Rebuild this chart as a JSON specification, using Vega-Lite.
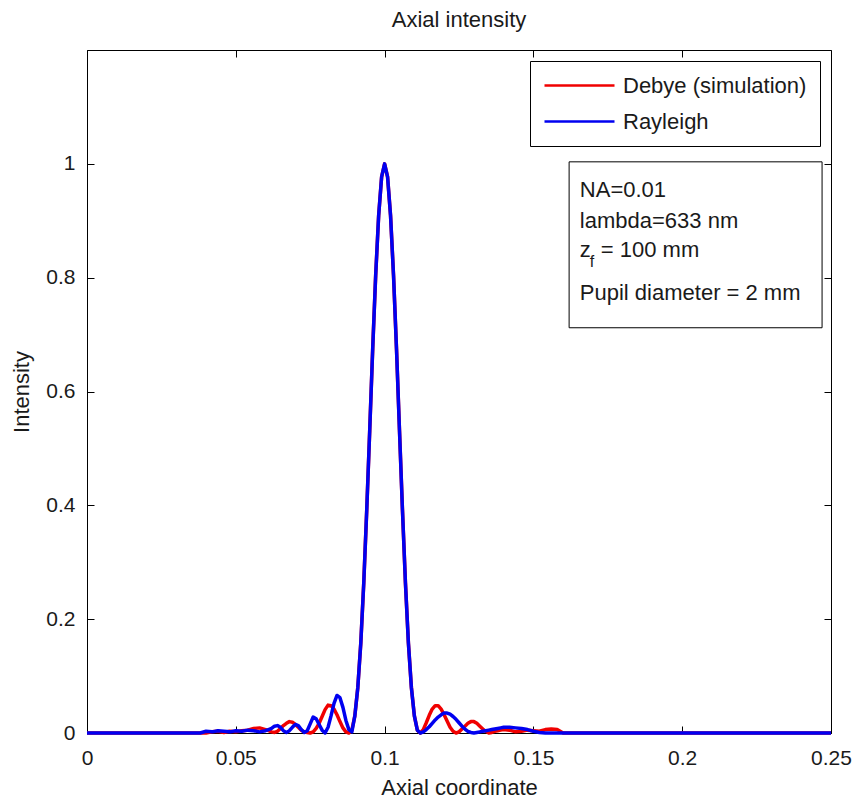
{
  "$schema": "https://vega.github.io/schema/vega-lite/v6.json",
  "autosize": "none",
  "width": 744,
  "height": 683,
  "padding": {"left": 87, "top": 50, "right": 21, "bottom": 70},
  "background": "white",
  "config": {
    "font": "Liberation Sans",
    "view": {"stroke": "black", "strokeWidth": 1},
    "axis": {"grid": false, "domainColor": "black", "tickColor": "black", "labelColor": "#1a1a1a", "titleColor": "#1a1a1a", "labelFontSize": 21, "titleFontSize": 22, "titleFontWeight": "normal", "tickSize": -7, "tickWidth": 1, "domainWidth": 1}
  },
  "title": {"text": "Axial intensity", "fontSize": 22, "fontWeight": "normal", "color": "#1a1a1a", "anchor": "middle", "frame": "group", "offset": 18},
  "data": {"values": [
    {"x": 0, "debye": 0, "rayleigh": 0},
    {"x": 0.038, "debye": 0, "rayleigh": 0},
    {"x": 0.040, "debye": 0, "rayleigh": 0.003},
    {"x": 0.042, "debye": 0.002, "rayleigh": 0.002},
    {"x": 0.044, "debye": 0.003, "rayleigh": 0.004},
    {"x": 0.046, "debye": 0.001, "rayleigh": 0.003},
    {"x": 0.048, "debye": 0.003, "rayleigh": 0.002},
    {"x": 0.050, "debye": 0.002, "rayleigh": 0.004},
    {"x": 0.052, "debye": 0.004, "rayleigh": 0.003},
    {"x": 0.054, "debye": 0.005, "rayleigh": 0.005},
    {"x": 0.056, "debye": 0.008, "rayleigh": 0.004},
    {"x": 0.058, "debye": 0.009, "rayleigh": 0.002},
    {"x": 0.060, "debye": 0.006, "rayleigh": 0.004},
    {"x": 0.061, "debye": 0.004, "rayleigh": 0.006},
    {"x": 0.062, "debye": 0.002, "rayleigh": 0.008},
    {"x": 0.063, "debye": 0.001, "rayleigh": 0.012},
    {"x": 0.064, "debye": 0.003, "rayleigh": 0.013},
    {"x": 0.065, "debye": 0.008, "rayleigh": 0.010},
    {"x": 0.066, "debye": 0.013, "rayleigh": 0.004},
    {"x": 0.067, "debye": 0.017, "rayleigh": 0.001},
    {"x": 0.068, "debye": 0.020, "rayleigh": 0.004},
    {"x": 0.069, "debye": 0.019, "rayleigh": 0.010},
    {"x": 0.070, "debye": 0.015, "rayleigh": 0.015},
    {"x": 0.071, "debye": 0.010, "rayleigh": 0.013},
    {"x": 0.072, "debye": 0.005, "rayleigh": 0.006},
    {"x": 0.073, "debye": 0.002, "rayleigh": 0.001},
    {"x": 0.074, "debye": 0.001, "rayleigh": 0.004},
    {"x": 0.075, "debye": 0.000, "rayleigh": 0.016},
    {"x": 0.076, "debye": 0.002, "rayleigh": 0.028},
    {"x": 0.077, "debye": 0.008, "rayleigh": 0.025},
    {"x": 0.078, "debye": 0.017, "rayleigh": 0.015},
    {"x": 0.079, "debye": 0.029, "rayleigh": 0.005},
    {"x": 0.080, "debye": 0.041, "rayleigh": 0.000},
    {"x": 0.081, "debye": 0.049, "rayleigh": 0.010},
    {"x": 0.082, "debye": 0.048, "rayleigh": 0.030},
    {"x": 0.083, "debye": 0.042, "rayleigh": 0.052},
    {"x": 0.084, "debye": 0.032, "rayleigh": 0.066},
    {"x": 0.085, "debye": 0.020, "rayleigh": 0.062},
    {"x": 0.086, "debye": 0.009, "rayleigh": 0.045},
    {"x": 0.087, "debye": 0.002, "rayleigh": 0.022},
    {"x": 0.088, "debye": 0.000, "rayleigh": 0.006},
    {"x": 0.089, "debye": 0.005, "rayleigh": 0.002},
    {"x": 0.090, "debye": 0.030, "rayleigh": 0.030},
    {"x": 0.091, "debye": 0.080, "rayleigh": 0.080},
    {"x": 0.092, "debye": 0.158, "rayleigh": 0.158},
    {"x": 0.093, "debye": 0.264, "rayleigh": 0.264},
    {"x": 0.094, "debye": 0.392, "rayleigh": 0.392},
    {"x": 0.095, "debye": 0.532, "rayleigh": 0.532},
    {"x": 0.096, "debye": 0.675, "rayleigh": 0.675},
    {"x": 0.097, "debye": 0.804, "rayleigh": 0.804},
    {"x": 0.098, "debye": 0.909, "rayleigh": 0.909},
    {"x": 0.099, "debye": 0.977, "rayleigh": 0.977},
    {"x": 0.100, "debye": 1.000, "rayleigh": 1.000},
    {"x": 0.101, "debye": 0.977, "rayleigh": 0.977},
    {"x": 0.102, "debye": 0.909, "rayleigh": 0.909},
    {"x": 0.103, "debye": 0.804, "rayleigh": 0.804},
    {"x": 0.104, "debye": 0.675, "rayleigh": 0.675},
    {"x": 0.105, "debye": 0.532, "rayleigh": 0.532},
    {"x": 0.106, "debye": 0.392, "rayleigh": 0.392},
    {"x": 0.107, "debye": 0.264, "rayleigh": 0.264},
    {"x": 0.108, "debye": 0.158, "rayleigh": 0.158},
    {"x": 0.109, "debye": 0.080, "rayleigh": 0.080},
    {"x": 0.110, "debye": 0.030, "rayleigh": 0.030},
    {"x": 0.111, "debye": 0.005, "rayleigh": 0.005},
    {"x": 0.112, "debye": 0.000, "rayleigh": 0.000},
    {"x": 0.113, "debye": 0.006, "rayleigh": 0.002},
    {"x": 0.114, "debye": 0.018, "rayleigh": 0.006},
    {"x": 0.115, "debye": 0.031, "rayleigh": 0.011},
    {"x": 0.116, "debye": 0.042, "rayleigh": 0.017},
    {"x": 0.117, "debye": 0.048, "rayleigh": 0.023},
    {"x": 0.118, "debye": 0.048, "rayleigh": 0.028},
    {"x": 0.119, "debye": 0.042, "rayleigh": 0.032},
    {"x": 0.120, "debye": 0.032, "rayleigh": 0.035},
    {"x": 0.121, "debye": 0.021, "rayleigh": 0.035},
    {"x": 0.122, "debye": 0.010, "rayleigh": 0.033},
    {"x": 0.123, "debye": 0.003, "rayleigh": 0.029},
    {"x": 0.124, "debye": 0.000, "rayleigh": 0.024},
    {"x": 0.125, "debye": 0.002, "rayleigh": 0.018},
    {"x": 0.126, "debye": 0.007, "rayleigh": 0.012},
    {"x": 0.127, "debye": 0.012, "rayleigh": 0.007},
    {"x": 0.128, "debye": 0.017, "rayleigh": 0.003},
    {"x": 0.129, "debye": 0.020, "rayleigh": 0.001},
    {"x": 0.130, "debye": 0.020, "rayleigh": 0.000},
    {"x": 0.131, "debye": 0.017, "rayleigh": 0.001},
    {"x": 0.132, "debye": 0.012, "rayleigh": 0.002},
    {"x": 0.133, "debye": 0.007, "rayleigh": 0.003},
    {"x": 0.134, "debye": 0.003, "rayleigh": 0.004},
    {"x": 0.135, "debye": 0.000, "rayleigh": 0.005},
    {"x": 0.136, "debye": 0.001, "rayleigh": 0.006},
    {"x": 0.137, "debye": 0.003, "rayleigh": 0.007},
    {"x": 0.138, "debye": 0.004, "rayleigh": 0.008},
    {"x": 0.139, "debye": 0.005, "rayleigh": 0.009},
    {"x": 0.140, "debye": 0.006, "rayleigh": 0.010},
    {"x": 0.142, "debye": 0.005, "rayleigh": 0.010},
    {"x": 0.144, "debye": 0.002, "rayleigh": 0.009},
    {"x": 0.146, "debye": 0.003, "rayleigh": 0.008},
    {"x": 0.148, "debye": 0.005, "rayleigh": 0.006},
    {"x": 0.150, "debye": 0.004, "rayleigh": 0.003},
    {"x": 0.152, "debye": 0.003, "rayleigh": 0.001},
    {"x": 0.154, "debye": 0.006, "rayleigh": 0.000},
    {"x": 0.156, "debye": 0.007, "rayleigh": 0.000},
    {"x": 0.158, "debye": 0.006, "rayleigh": 0.000},
    {"x": 0.160, "debye": 0.000, "rayleigh": 0.000},
    {"x": 0.25, "debye": 0, "rayleigh": 0}
  ]},
  "resolve": {"axis": {"x": "independent", "y": "independent"}},
  "layer": [
    {
      "transform": [{"fold": ["debye", "rayleigh"], "as": ["series", "I"]}],
      "mark": {"type": "line", "strokeWidth": 3.5, "strokeJoin": "round"},
      "encoding": {
        "x": {"field": "x", "type": "quantitative", "scale": {"domain": [0, 0.25], "nice": false, "zero": false},
              "axis": {"orient": "bottom", "values": [0, 0.05, 0.1, 0.15, 0.2, 0.25], "format": "~g", "labelPadding": 21, "title": "Axial coordinate", "titlePadding": 9, "labelFlush": false}},
        "y": {"field": "I", "type": "quantitative", "scale": {"domain": [0, 1.2], "nice": false, "zero": false},
              "axis": {"orient": "left", "values": [0, 0.2, 0.4, 0.6, 0.8, 1], "format": "~g", "labelPadding": 19, "title": "Intensity", "titlePadding": 12}},
        "color": {"field": "series", "type": "nominal",
                  "scale": {"domain": ["debye", "rayleigh"], "range": ["#f00000", "#0000f0"]},
                  "legend": {"title": null, "orient": "top-right", "offset": 11, "labelExpr": "datum.label == 'debye' ? 'Debye (simulation)' : 'Rayleigh'",
                             "strokeColor": "black", "fillColor": "white", "padding": 13, "labelFontSize": 22, "labelColor": "#1a1a1a",
                             "symbolType": "M-3.5,0H3.5", "symbolSize": 400, "symbolStrokeWidth": 2.5, "symbolOffset": 25, "labelOffset": 32, "rowPadding": 13, "labelLimit": 400}}
      }
    },
    {
      "mark": {"type": "point", "opacity": 0},
      "encoding": {
        "x": {"field": "x", "type": "quantitative", "axis": {"orient": "top", "values": [0, 0.05, 0.1, 0.15, 0.2, 0.25], "labels": false, "domain": false, "title": null}},
        "y": {"field": "debye", "type": "quantitative", "axis": {"orient": "right", "values": [0, 0.2, 0.4, 0.6, 0.8, 1], "labels": false, "domain": false, "title": null}}
      }
    },
    {
      "data": {"values": [{}]},
      "mark": {"type": "rect", "fill": "white", "stroke": "black", "strokeWidth": 1},
      "encoding": {
        "x": {"datum": 0.162, "type": "quantitative", "axis": null},
        "x2": {"datum": 0.247},
        "y": {"datum": 1.0035, "type": "quantitative", "axis": null},
        "y2": {"datum": 0.712}
      }
    },
    {
      "data": {"values": [{}]},
      "mark": {"type": "text", "text": "NA=0.01", "align": "left", "baseline": "alphabetic", "fontSize": 22, "color": "#1a1a1a"},
      "encoding": {"x": {"datum": 0.1656, "type": "quantitative", "axis": null}, "y": {"datum": 0.942, "type": "quantitative", "axis": null}}
    },
    {
      "data": {"values": [{}]},
      "mark": {"type": "text", "text": "lambda=633 nm", "align": "left", "baseline": "alphabetic", "fontSize": 22, "color": "#1a1a1a"},
      "encoding": {"x": {"datum": 0.1656, "type": "quantitative", "axis": null}, "y": {"datum": 0.8875, "type": "quantitative", "axis": null}}
    },
    {
      "data": {"values": [{}]},
      "mark": {"type": "text", "text": "z", "align": "left", "baseline": "alphabetic", "fontSize": 22, "color": "#1a1a1a"},
      "encoding": {"x": {"datum": 0.1656, "type": "quantitative", "axis": null}, "y": {"datum": 0.8366, "type": "quantitative", "axis": null}}
    },
    {
      "data": {"values": [{}]},
      "mark": {"type": "text", "text": "f", "align": "left", "baseline": "alphabetic", "fontSize": 16, "color": "#1a1a1a", "dx": 10},
      "encoding": {"x": {"datum": 0.1656, "type": "quantitative", "axis": null}, "y": {"datum": 0.819, "type": "quantitative", "axis": null}}
    },
    {
      "data": {"values": [{}]},
      "mark": {"type": "text", "text": "= 100 mm", "align": "left", "baseline": "alphabetic", "fontSize": 22, "color": "#1a1a1a", "dx": 21},
      "encoding": {"x": {"datum": 0.1656, "type": "quantitative", "axis": null}, "y": {"datum": 0.8366, "type": "quantitative", "axis": null}}
    },
    {
      "data": {"values": [{}]},
      "mark": {"type": "text", "text": "Pupil diameter = 2 mm", "align": "left", "baseline": "alphabetic", "fontSize": 22, "color": "#1a1a1a"},
      "encoding": {"x": {"datum": 0.1656, "type": "quantitative", "axis": null}, "y": {"datum": 0.761, "type": "quantitative", "axis": null}}
    }
  ]
}
